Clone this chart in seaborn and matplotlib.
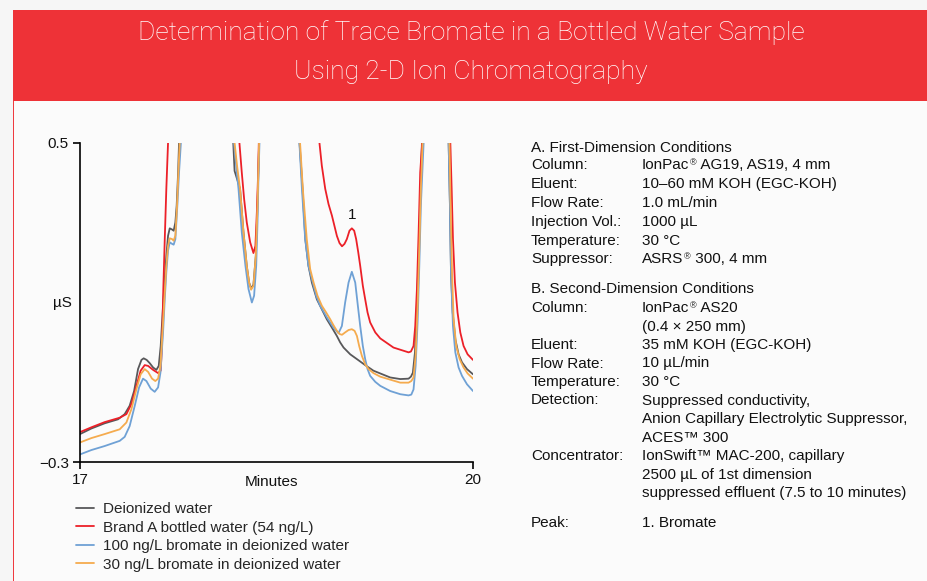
import matplotlib
matplotlib.use("Agg")
import matplotlib.pyplot as plt
import matplotlib.patches as patches
import numpy as np
import pandas as pd
import seaborn as sns

# Chromatogram traces (NaN = trace runs off the top of the scale)
labels = ["Deionized water", "Brand A bottled water (54 ng/L)",
          "100 ng/L bromate in deionized water", "30 ng/L bromate in deionized water"]
colors = ["#58585a", "#ec2028", "#6fa1d5", "#f5ab4e"]

t_di = [17.0, 17.087, 17.188, 17.29, 17.341, 17.379, 17.413, 17.443, 17.469, 17.486, 17.509, 17.532,
        17.558, 17.583, 17.601, 17.616, 17.634, 17.647, 17.659, 17.672, 17.685, 17.703, 17.715, 17.728,
        17.738, 17.749, 17.756, 17.95,
        18.17, 18.18, 18.222, 18.248, 18.273, 18.291, 18.306, 18.324, 18.342, 18.355, 18.367, 18.5,
        18.676, 18.699, 18.72, 18.744, 18.77, 18.808, 18.846, 18.884, 18.923, 18.961, 18.986, 19.012,
        19.063, 19.114, 19.177, 19.24, 19.368, 19.445, 19.508, 19.526, 19.541, 19.557, 19.572, 19.585,
        19.597, 19.61, 19.7,
        19.814, 19.824, 19.832, 19.845, 19.865, 19.89, 19.916, 19.954, 20.0]
y_di = [-0.230, -0.216, -0.203, -0.193, -0.180, -0.159, -0.122, -0.067, -0.044, -0.040, -0.044, -0.052,
        -0.063, -0.069, -0.059, -0.009, 0.092, 0.159, 0.217, 0.267, 0.286, 0.283, 0.280, 0.301,
        0.343, 0.426, 0.5, np.nan,
        0.5, 0.43, 0.385, 0.276, 0.192, 0.150, 0.135, 0.145, 0.217, 0.343, 0.5, np.nan,
        0.5, 0.385, 0.259, 0.192, 0.150, 0.108, 0.083, 0.058, 0.037, 0.016, 0.0, -0.013,
        -0.030, -0.042, -0.057, -0.071, -0.088, -0.092, -0.091, -0.086, -0.076, -0.025, 0.092, 0.217,
        0.343, 0.5, np.nan,
        0.5, 0.343, 0.175, 0.075, 0.008, -0.030, -0.050, -0.067, -0.080]

t_brand = [17.0, 17.087, 17.188, 17.303, 17.354, 17.392, 17.431, 17.463, 17.494, 17.52, 17.558, 17.596,
           17.616, 17.626, 17.636, 17.647, 17.659, 17.672, 17.9,
           18.217, 18.235, 18.253, 18.273, 18.299, 18.324, 18.339, 18.35, 18.36, 18.365, 18.6,
           18.828, 18.846, 18.872, 18.897, 18.923, 18.961, 18.981, 19.0, 19.019, 19.037, 19.057, 19.075,
           19.093, 19.108, 19.124, 19.139, 19.159, 19.177, 19.195, 19.215, 19.254, 19.292, 19.393,
           19.508, 19.526, 19.546, 19.559, 19.572, 19.585, 19.597, 19.612, 19.7,
           19.827, 19.837, 19.847, 19.862, 19.882, 19.903, 19.928, 19.959, 20.0]
y_brand = [-0.225, -0.213, -0.200, -0.189, -0.180, -0.155, -0.109, -0.071, -0.057, -0.059, -0.069, -0.077,
           -0.071, -0.009, 0.134, 0.259, 0.385, 0.5, np.nan,
           0.5, 0.426, 0.359, 0.301, 0.251, 0.224, 0.242, 0.326, 0.426, 0.5, np.nan,
           0.5, 0.443, 0.385, 0.347, 0.318, 0.267, 0.249, 0.241, 0.247, 0.259, 0.280, 0.286,
           0.280, 0.259, 0.226, 0.192, 0.142, 0.108, 0.075, 0.050, 0.025, 0.010, -0.013,
           -0.025, -0.023, -0.009, 0.041, 0.134, 0.276, 0.426, 0.5, np.nan,
           0.5, 0.385, 0.259, 0.150, 0.075, 0.025, -0.009, -0.030, -0.044]

t_100 = [17.0, 17.087, 17.188, 17.303, 17.341, 17.379, 17.418, 17.451, 17.481, 17.507, 17.54, 17.57,
         17.596, 17.614, 17.634, 17.647, 17.659, 17.672, 17.685, 17.703, 17.715, 17.728, 17.743, 17.756,
         17.77, 17.95,
         18.176, 18.197, 18.21, 18.235, 18.263, 18.286, 18.312, 18.329, 18.345, 18.355, 18.362, 18.37, 18.5,
         18.675, 18.694, 18.719, 18.744, 18.77, 18.803, 18.833, 18.884, 18.935, 18.973, 18.999, 19.024,
         19.05, 19.075, 19.101, 19.121, 19.139, 19.159, 19.177, 19.195, 19.215, 19.254, 19.292, 19.368,
         19.445, 19.508, 19.529, 19.546, 19.562, 19.577, 19.59, 19.602, 19.623, 19.7,
         19.814, 19.824, 19.832, 19.847, 19.865, 19.89, 19.916, 19.954, 20.0]
y_100 = [-0.281, -0.270, -0.260, -0.247, -0.237, -0.210, -0.159, -0.113, -0.091, -0.097, -0.116, -0.124,
         -0.113, -0.076, 0.025, 0.109, 0.176, 0.230, 0.251, 0.247, 0.245, 0.259, 0.343, 0.426,
         0.5, np.nan,
         0.5, 0.426, 0.385, 0.276, 0.192, 0.134, 0.100, 0.117, 0.192, 0.301, 0.41, 0.5, np.nan,
         0.5, 0.385, 0.259, 0.192, 0.159, 0.117, 0.092, 0.063, 0.037, 0.023, 0.041, 0.100,
         0.150, 0.177, 0.150, 0.092, 0.041, -0.009, -0.042, -0.067, -0.084, -0.099, -0.109, -0.122,
         -0.130, -0.133, -0.131, -0.118, -0.059, 0.050, 0.192, 0.343, 0.5, np.nan,
         0.5, 0.343, 0.175, 0.041, -0.025, -0.063, -0.084, -0.105, -0.122]

t_30 = [17.0, 17.087, 17.188, 17.303, 17.354, 17.392, 17.431, 17.463, 17.494, 17.52, 17.55, 17.575,
        17.596, 17.614, 17.634, 17.647, 17.659, 17.672, 17.685, 17.703, 17.715, 17.728, 17.741, 17.751,
        17.761, 17.95,
        18.18, 18.2, 18.222, 18.248, 18.273, 18.291, 18.306, 18.324, 18.342, 18.355, 18.367, 18.5,
        18.68, 18.701, 18.731, 18.757, 18.783, 18.813, 18.846, 18.879, 18.91, 18.935, 18.961, 18.981,
        19.0, 19.024, 19.05, 19.075, 19.096, 19.114, 19.131, 19.152, 19.177, 19.203, 19.24, 19.292,
        19.445, 19.508, 19.529, 19.546, 19.562, 19.577, 19.59, 19.602, 19.615, 19.7,
        19.82, 19.829, 19.84, 19.852, 19.872, 19.898, 19.928, 19.959, 20.0]
y_30 = [-0.251, -0.240, -0.230, -0.218, -0.201, -0.168, -0.117, -0.080, -0.067, -0.074, -0.091, -0.097,
        -0.091, -0.059, 0.050, 0.126, 0.192, 0.242, 0.261, 0.259, 0.255, 0.268, 0.343, 0.426,
        0.5, np.nan,
        0.5, 0.44, 0.385, 0.276, 0.192, 0.150, 0.132, 0.142, 0.217, 0.343, 0.5, np.nan,
        0.5, 0.385, 0.259, 0.184, 0.150, 0.117, 0.092, 0.075, 0.058, 0.043, 0.029, 0.021,
        0.019, 0.025, 0.031, 0.033, 0.029, 0.016, -0.009, -0.034, -0.055, -0.067, -0.077, -0.086,
        -0.101, -0.101, -0.097, -0.088, -0.034, 0.092, 0.234, 0.385, 0.5, np.nan,
        0.5, 0.343, 0.175, 0.058, -0.009, -0.042, -0.063, -0.078, -0.091]

peak_label = "1"
peak_pos = (19.08, 0.302)

cond_lines = [
    ("A. First-Dimension Conditions", ""),
    ("Column:", "IonPac® AG19, AS19, 4 mm"),
    ("Eluent:", "10–60 mM KOH (EGC-KOH)"),
    ("Flow Rate:", "1.0 mL/min"),
    ("Injection Vol.:", "1000 µL"),
    ("Temperature:", "30 °C"),
    ("Suppressor:", "ASRS® 300, 4 mm"),
    ("B. Second-Dimension Conditions", ""),
    ("Column:", "IonPac® AS20"),
    ("", "(0.4 × 250 mm)"),
    ("Eluent:", "35 mM KOH (EGC-KOH)"),
    ("Flow Rate:", "10 µL/min"),
    ("Temperature:", "30 °C"),
    ("Detection:", "Suppressed conductivity,"),
    ("", "Anion Capillary Electrolytic Suppressor,"),
    ("", "ACES™ 300"),
    ("Concentrator:", "IonSwift™ MAC-200, capillary"),
    ("", "2500 µL of 1st dimension"),
    ("", "suppressed effluent (7.5 to 10 minutes)"),
    ("Peak:", "1. Bromate"),
]
# baselines of the text rows, in pixels from the top
cond_y = [152, 169.5, 188, 207, 226, 245, 263.5, 293, 312, 330.5, 349, 367.5, 386, 404.5, 423, 441.5,
          460, 478.5, 497, 527]

# build long table, one segment id per unbroken piece of trace
frames = []
for name, t, y in zip(labels, [t_di, t_brand, t_100, t_30], [y_di, y_brand, y_100, y_30]):
    d = pd.DataFrame({"time": t, "value": y})
    d["seg"] = d["value"].isna().cumsum()
    d["sample"] = name
    frames.append(d.dropna())
df = pd.concat(frames, ignore_index=True)

sns.set_theme(style="white")
plt.rcParams["font.family"] = ["Liberation Sans", "DejaVu Sans"]

W, H = 928, 581
TXT = "#111111"
fig = plt.figure(figsize=(W / 100, H / 100), dpi=100, facecolor="#f6f6f6")

# red banner and panel
fig.patches.append(patches.Rectangle((13 / W, 0), 1 - 13 / W, 1 - 101 / H, transform=fig.transFigure,
                                     facecolor="#fbfbfb", edgecolor="none", zorder=-2))
fig.patches.append(patches.Rectangle((13 / W, 0), 1.5 / W, 1 - 101 / H, transform=fig.transFigure,
                                     facecolor="#ef3b40", edgecolor="none", zorder=-1))
fig.patches.append(patches.Rectangle((13 / W, 1 - 101 / H), 1 - 13 / W, 91 / H, transform=fig.transFigure,
                                     facecolor="#ee3237", edgecolor="none", zorder=-1))
title_font = dict(ha="center", va="center", color="white", fontsize=19,
                  family=["Roboto", "Liberation Sans"], fontweight="light")
fig.text(471 / W, 1 - 33 / H, "Determination of Trace Bromate in a Bottled Water Sample", **title_font)
fig.text(471 / W, 1 - 72 / H, "Using 2-D Ion Chromatography", **title_font)

ax = fig.add_axes([80 / W, 1 - 462 / H, 393 / W, 319 / H])
ax.set_facecolor("none")
sns.lineplot(data=df, x="time", y="value", hue="sample", hue_order=labels, palette=colors,
             units="seg", estimator=None, sort=False, linewidth=1.3, ax=ax)
ax.set_xlim(17, 20)
ax.set_ylim(-0.3, 0.5)
ax.set_xticks([17, 20])
ax.set_yticks([0.5, -0.3])
ax.set_yticklabels(["0.5", "\u22120.3"])
ax.set_xlabel("")
ax.set_ylabel("")
for s in ["top", "right"]:
    ax.spines[s].set_visible(False)
for s in ["left", "bottom"]:
    ax.spines[s].set_color("black")
    ax.spines[s].set_linewidth(1.2)
ax.tick_params(axis="both", direction="out", length=5, width=1.2, color="black",
               labelsize=11, labelcolor=TXT, left=True, bottom=True)
ax.tick_params(axis="x", pad=3)
ax.tick_params(axis="y", pad=3)
ax.text(peak_pos[0], peak_pos[1], peak_label, ha="center", va="bottom", fontsize=11, color=TXT)

fig.text(62 / W, 1 - 303 / H, "µS", ha="center", va="center", fontsize=11, color=TXT)
fig.text(271 / W, 1 - 482 / H, "Minutes", ha="center", va="center", fontsize=11, color=TXT)

handles, _ = ax.get_legend_handles_labels()
ax.legend(handles[:4], labels, loc="upper left", bbox_to_anchor=(76 / W, 1 - 502 / H),
          bbox_transform=fig.transFigure, frameon=False, fontsize=11, handlelength=1.15,
          handletextpad=0.65, labelspacing=0.3, borderpad=0, borderaxespad=0)


def value_text(x, y, s):
    # small raised ® after a word, the rest continues on the same baseline
    if "®" not in s:
        fig.text(x, y, s, ha="left", va="baseline", fontsize=11, color=TXT)
        return
    head, tail = s.split("®", 1)
    t1 = fig.text(x, y, head, ha="left", va="baseline", fontsize=11, color=TXT)
    reg = ax.annotate("®", xy=(1, 1.0), xycoords=t1, xytext=(0.5, 0), textcoords="offset points",
                      ha="left", va="top", fontsize=6.5, color=TXT, annotation_clip=False)
    ax.annotate(tail, xy=(1, 0), xycoords=(reg, t1), ha="left", va="bottom",
                fontsize=11, color=TXT, annotation_clip=False)


for (a, b), yy in zip(cond_lines, cond_y):
    fig.text(531 / W, 1 - yy / H, a, ha="left", va="baseline", fontsize=11, color=TXT)
    if b:
        value_text(642 / W, 1 - yy / H, b)

fig.savefig("out.png", dpi=100, facecolor=fig.get_facecolor())
